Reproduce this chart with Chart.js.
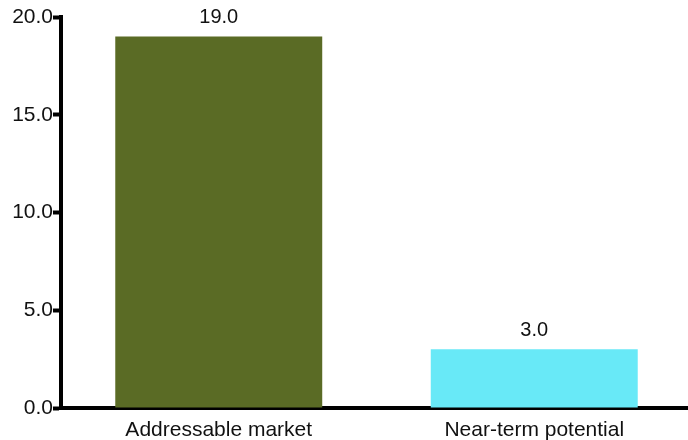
<!DOCTYPE html>
<html>
<head>
<meta charset="utf-8">
<script src="https://cdn.jsdelivr.net/npm/chart.js@4/dist/chart.umd.min.js"></script>
<style>
html,body{margin:0;padding:0;background:#fff;overflow:hidden;}
#wrap{width:688px;height:440px;overflow:hidden;position:relative;}
canvas{display:block;}
</style>
</head>
<body>
<div id="wrap"><canvas id="c" width="692" height="440"></canvas></div>
<script>
const categories = ["Addressable market", "Near-term potential"];
const values = [19.0, 3.0];
const barColors = ["#5a6b25", "#68e9f7"];
const yTicks = [0, 5, 10, 15, 20];

const FONT = "'Liberation Sans', Arial, sans-serif";

const valueLabels = {
  id: 'valueLabels',
  afterDatasetsDraw(chart) {
    const ctx = chart.ctx;
    const meta = chart.getDatasetMeta(0);
    ctx.save();
    ctx.font = "20px " + FONT;
    ctx.fillStyle = "#111";
    ctx.textAlign = "center";
    ctx.textBaseline = "middle";
    meta.data.forEach((bar, i) => {
      ctx.fillText(values[i].toFixed(1), bar.x, bar.y - 19);
    });
    ctx.restore();
  }
};

new Chart(document.getElementById('c'), {
  type: 'bar',
  data: {
    labels: categories,
    datasets: [{
      data: values,
      backgroundColor: barColors,
      borderWidth: 0,
      barPercentage: 0.656,
      categoryPercentage: 1.0
    }]
  },
  options: {
    responsive: false,
    animation: false,
    layout: { padding: { top: 17, right: 0, left: 0, bottom: 0 } },
    plugins: { legend: { display: false }, tooltip: { enabled: false } },
    scales: {
      x: {
        grid: { display: false },
        border: { display: true, color: '#000', width: 4 },
        ticks: { color: '#111', font: { size: 21, family: FONT }, padding: 2 },
        afterFit(s) { s.height = 32; }
      },
      y: {
        min: 0, max: 20,
        afterBuildTicks(s) { s.ticks = yTicks.map(v => ({ value: v })); },
        grid: { display: true, drawOnChartArea: false, drawTicks: true, tickLength: 8, tickColor: '#000', tickWidth: 4, color: '#000' },
        border: { display: true, color: '#000', width: 4 },
        ticks: { color: '#111', font: { size: 21, family: FONT }, padding: 0, callback: v => Number(v).toFixed(1) },
        afterFit(s) { s.width = 61; }
      }
    }
  },
  plugins: [valueLabels]
});
</script>
</body>
</html>
